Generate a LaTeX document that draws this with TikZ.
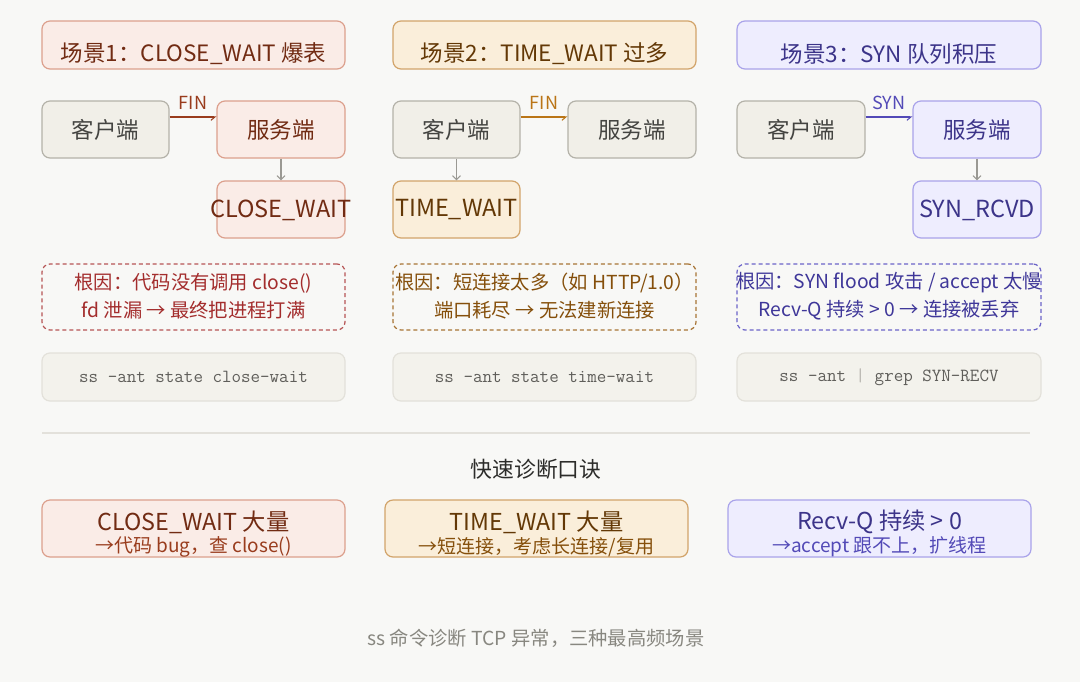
\documentclass[tikz,border=0pt]{standalone}
\usepackage{fontspec}
\setmainfont{Noto Sans CJK SC}
\usetikzlibrary{arrows.meta}
\definecolor{bg}{HTML}{F8F8F6}
\definecolor{cofill}{HTML}{FAECE7}\definecolor{codraw}{HTML}{DCA08D}\definecolor{cotext}{HTML}{712B13}\definecolor{coarrow}{HTML}{993C1D}
\definecolor{amfill}{HTML}{FAEEDA}\definecolor{amdraw}{HTML}{D2A46A}\definecolor{amtext}{HTML}{633806}\definecolor{amarrow}{HTML}{BA7517}
\definecolor{pufill}{HTML}{EEEDFE}\definecolor{pudraw}{HTML}{A9A3EA}\definecolor{putext}{HTML}{3C3489}\definecolor{puarrow}{HTML}{534AB7}
\definecolor{grfill}{HTML}{F1EFE8}\definecolor{grdraw}{HTML}{B4B2A9}\definecolor{grtext}{HTML}{444441}
\definecolor{rtred}{HTML}{A32D2D}\definecolor{rtredd}{HTML}{B65555}
\definecolor{rtam}{HTML}{854F0B}\definecolor{rtamd}{HTML}{A87435}
\definecolor{rtpu}{HTML}{3F3799}\definecolor{rtpud}{HTML}{6B63C8}
\definecolor{cmfill}{HTML}{F3F2EC}\definecolor{cmdraw}{HTML}{E3E1DA}\definecolor{cmtext}{HTML}{5F5E5A}
\definecolor{sep}{HTML}{E3E1DB}\definecolor{hdtext}{HTML}{2C2C2A}\definecolor{fttext}{HTML}{888780}
\definecolor{varrow}{HTML}{9A9993}
\newcommand{\fpx}[1]{\fontsize{\dimexpr #1pt*3/4\relax}{\dimexpr #1pt*9/10\relax}\selectfont}
\tikzset{
  box/.style 2 args={draw, rounded corners=6pt, line width=0.9pt, inner sep=0pt,
     minimum width=#1*0.75pt, minimum height=#2*0.75pt},
  coral/.style={fill=cofill, draw=codraw, text=cotext},
  amber/.style={fill=amfill, draw=amdraw, text=amtext},
  purple/.style={fill=pufill, draw=pudraw, text=putext},
  gray/.style={fill=grfill, draw=grdraw, text=grtext},
  big/.style={font=\fpx{22.5}},
  state/.style={font=\fpx{23.5}},
  rootbox/.style={dashed, dash pattern=on 3pt off 2.2pt, fill=none},
  cmd/.style={fill=cmfill, draw=cmdraw, text=cmtext, font=\ttfamily\fpx{18.5}},
  lbl/.style={inner sep=0pt, align=center},
  fin/.style={line width=0.8pt, -{Straight Barb[right, length=3pt, width=5pt]}},
  varr/.style={draw=varrow, line width=0.8pt, -{Straight Barb[length=3pt, width=6pt]}},
}
\begin{document}
\begin{tikzpicture}[x=0.75pt, y=-0.75pt]
\useasboundingbox[fill=bg] (0,0) rectangle (1080,682);

% ---- titles
\node[box={303}{48}, coral] (t1) at (193.5,45) {};
\node[lbl, big, text=cotext] (t1l) at (193.5,54) {场景1：CLOSE\_WAIT 爆表};
\node[box={303}{48}, amber] (t2) at (544.5,45) {};
\node[lbl, big, text=amtext] (t2l) at (544.5,54) {场景2：TIME\_WAIT 过多};
\node[box={304}{48}, purple] (t3) at (889,45) {};
\node[lbl, big, text=putext] (t3l) at (889,54) {场景3：SYN 队列积压};

% ---- scene 1
\node[box={127}{57}, gray, big] (c1) at (105.5,129.5) {客户端};
\node[box={128}{57}, coral, big] (s1) at (281,129.5) {服务端};
\node[box={128}{57}, coral] (cw) at (281,209.5) {};
\node[lbl, state, text=cotext] (cwl) at (281,210) {CLOSE\_WAIT};
\draw[fin, draw=coarrow] ([yshift=9.4pt]c1.east) -- ([yshift=9.4pt]s1.west)
  node[midway, above=1.5pt, text=coarrow, font=\fpx{18}] (f1) {FIN};
\draw[varr] (s1) -- (cw);

% ---- scene 2
\node[box={127}{57}, gray, big] (c2) at (456.5,129.5) {客户端};
\node[box={128}{57}, gray, big] (s2) at (632,129.5) {服务端};
\node[box={127}{57}, amber] (tw) at (456.5,209.5) {};
\node[lbl, state, text=amtext] (twl) at (456.5,210) {TIME\_WAIT};
\draw[fin, draw=amarrow] ([yshift=9.4pt]c2.east) -- ([yshift=9.4pt]s2.west)
  node[midway, above=1.5pt, text=amarrow, font=\fpx{18}] (f2) {FIN};
\draw[varr] (c2) -- (tw);

% ---- scene 3
\node[box={128}{57}, gray, big] (c3) at (801,129.5) {客户端};
\node[box={128}{57}, purple, big] (s3) at (977,129.5) {服务端};
\node[box={128}{57}, purple] (sr) at (977,209.5) {};
\node[lbl, state, text=putext] (srl) at (977,210) {SYN\_RCVD};
\draw[fin, draw=puarrow] ([yshift=9.4pt]c3.east) -- ([yshift=9.4pt]s3.west)
  node[midway, above=1.5pt, text=puarrow, font=\fpx{18}] (f3) {SYN};
\draw[varr] (s3) -- (sr);

% ---- root causes
\node[box={303}{66}, rootbox, draw=rtredd] (r1) at (193.5,297) {};
\node[lbl, text=rtred, font=\fpx{19.3}] (r1a) at (193.5,283) {根因：代码没有调用 close()};
\node[lbl, text=rtred, font=\fpx{19.3}] (r1b) at (193.5,310.5) {fd 泄漏 → 最终把进程打满};
\node[box={303}{66}, rootbox, draw=rtamd] (r2) at (544.5,297) {};
\node[lbl, text=rtam, font=\fpx{19.3}] (r2a) at (544.5,283) {根因：短连接太多（如 HTTP/1.0）};
\node[lbl, text=rtam, font=\fpx{19.3}] (r2b) at (544.5,310.5) {端口耗尽 → 无法建新连接};
\node[box={304}{66}, rootbox, draw=rtpud] (r3) at (889,297) {};
\node[lbl, text=rtpu, font=\fpx{19.3}] (r3a) at (889,283) {根因：SYN flood 攻击 / accept 太慢};
\node[lbl, text=rtpu, font=\fpx{19.3}] (r3b) at (889,310.5) {Recv-Q 持续 > 0 → 连接被丢弃};

% ---- commands
\node[box={303}{48}, cmd] (k1) at (193.5,377) {ss -ant state close-wait};
\node[box={303}{48}, cmd] (k2) at (544.5,377) {ss -ant state time-wait};
\node[box={304}{48}, cmd] (k3) at (889,377) {ss -ant {\color{cmdraw!80!black}|} grep SYN-RECV};

% ---- separator and header
\coordinate (sepL) at (42,433);
\coordinate (sepR) at (1030,433);
\draw[sep, line width=1.5pt] (sepL) -- (sepR);
\node[lbl, text=hdtext, font=\fpx{21.8}] (hd) at (536,469) {快速诊断口诀};

% ---- summary boxes
\node[box={303}{57}, coral] (b1) at (193.5,528.5) {};
\node[lbl, text=cotext, font=\fpx{23.3}] (b1a) at (193.5,522) {CLOSE\_WAIT 大量};
\node[lbl, text=coarrow, font=\fpx{19}] (b1b) at (193.5,547) {→代码 bug，查 close()};
\node[box={303}{57}, amber] (b2) at (536.5,528.5) {};
\node[lbl, text=amtext, font=\fpx{23.3}] (b2a) at (536.5,522) {TIME\_WAIT 大量};
\node[lbl, text=rtam, font=\fpx{19}] (b2b) at (536.5,547) {→短连接，考虑长连接/复用};
\node[box={303}{57}, purple] (b3) at (879.5,528.5) {};
\node[lbl, text=putext, font=\fpx{23.3}] (b3a) at (879.5,522) {Recv-Q 持续 > 0};
\node[lbl, text=puarrow, font=\fpx{19}] (b3b) at (879.5,547) {→accept 跟不上，扩线程};

% ---- footer
\node[lbl, text=fttext, font=\fpx{19.3}] (ft) at (536,638) {ss 命令诊断 TCP 异常，三种最高频场景};
\end{tikzpicture}
\end{document}
